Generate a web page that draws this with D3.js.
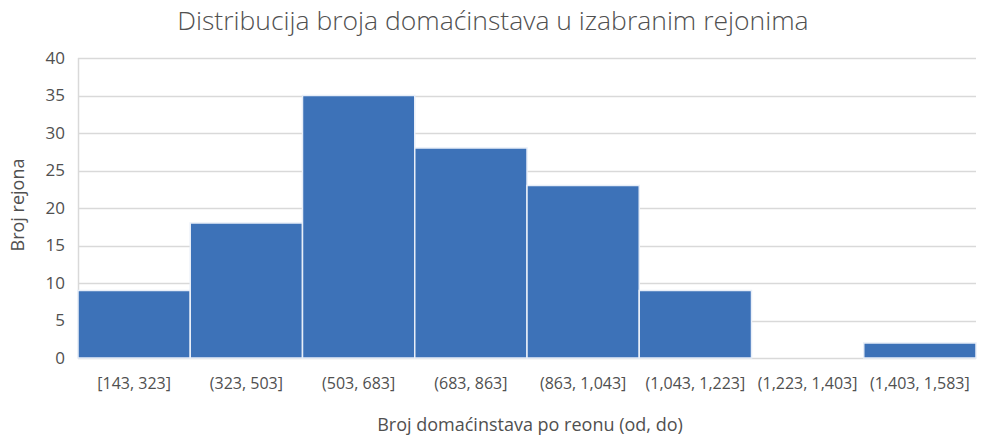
<!DOCTYPE html>
<html>
<head>
<meta charset="utf-8">
<script src="https://cdn.jsdelivr.net/npm/d3@7"></script>
<style>
  body { margin: 0; background: #fff; }
  text { font-family: "Open Sans", "Noto Sans", sans-serif; }
</style>
</head>
<body>
<div id="chart"></div>
<script>
// histogram bins and counts
var bins = ["[143, 323]", "(323, 503]", "(503, 683]", "(683, 863]", "(863, 1,043]", "(1,043, 1,223]", "(1,223, 1,403]", "(1,403, 1,583]"];
var counts = [9, 18, 35, 28, 23, 9, 0, 2];
var yTicks = [0, 5, 10, 15, 20, 25, 30, 35, 40];

var W = 984, H = 437;
var margin = {top: 58, right: 8, bottom: 79, left: 78},
  width = W - margin.left - margin.right,
  height = H - margin.top - margin.bottom;

var svg = d3.select('#chart')
  .append('svg')
    .attr('width', W)
    .attr('height', H);

var g = svg.append('g')
  .attr('transform', 'translate(' + margin.left + ',' + margin.top + ')');

var x = d3.scaleBand().domain(bins).range([0, width]).padding(0);
var y = d3.scaleLinear().domain([0, 40]).range([height, 0]);

// gridlines
g.selectAll('.grid')
  .data(yTicks).enter()
  .append('line')
    .attr('class', 'grid')
    .attr('x1', 0)
    .attr('x2', width)
    .attr('y1', function(d) { return Math.round(y(d)) + 0.5; })
    .attr('y2', function(d) { return Math.round(y(d)) + 0.5; })
    .attr('stroke', '#d9d9d9')
    .attr('stroke-width', 1.5);

// left axis line
g.append('line')
  .attr('x1', 0.5).attr('x2', 0.5)
  .attr('y1', 0).attr('y2', height)
  .attr('stroke', '#d9d9d9')
  .attr('stroke-width', 1.5);

// bars
g.selectAll('.bar')
  .data(counts).enter()
  .append('rect')
    .attr('class', 'bar')
    .attr('x', function(d, i) { return x(bins[i]); })
    .attr('width', x.bandwidth())
    .attr('y', function(d) { return y(d); })
    .attr('height', function(d) { return height - y(d); })
    .attr('fill', '#3d72b8')
    .attr('stroke', function(d) { return d > 0 ? '#e8eef8' : 'none'; })
    .attr('stroke-width', 1.5);

// y tick labels
g.selectAll('.ytick')
  .data(yTicks).enter()
  .append('text')
    .attr('class', 'ytick')
    .attr('x', -13)
    .attr('y', function(d) { return y(d); })
    .attr('dy', '0.35em')
    .attr('text-anchor', 'end')
    .attr('font-size', 17)
    .attr('fill', '#505050')
    .text(function(d) { return d; });

// x tick labels
g.selectAll('.xtick')
  .data(bins).enter()
  .append('text')
    .attr('class', 'xtick')
    .attr('x', function(d) { return x(d) + x.bandwidth() / 2; })
    .attr('y', height + 31)
    .attr('text-anchor', 'middle')
    .attr('font-size', 16)
    .attr('fill', '#505050')
    .text(function(d) { return d; });

// title
svg.append('text')
  .attr('x', 493)
  .attr('y', 30)
  .attr('text-anchor', 'middle')
  .attr('font-size', 26.5)
  .attr('font-weight', 300)
  .attr('fill', '#505050')
  .text('Distribucija broja domaćinstava u izabranim rejonima');

// axis titles
svg.append('text')
  .attr('x', 530)
  .attr('y', 431)
  .attr('text-anchor', 'middle')
  .attr('font-size', 18)
  .attr('fill', '#505050')
  .text('Broj domaćinstava po reonu (od, do)');

svg.append('text')
  .attr('transform', 'translate(24,205) rotate(-90)')
  .attr('text-anchor', 'middle')
  .attr('font-size', 18)
  .attr('fill', '#505050')
  .text('Broj rejona');
</script>
</body>
</html>
